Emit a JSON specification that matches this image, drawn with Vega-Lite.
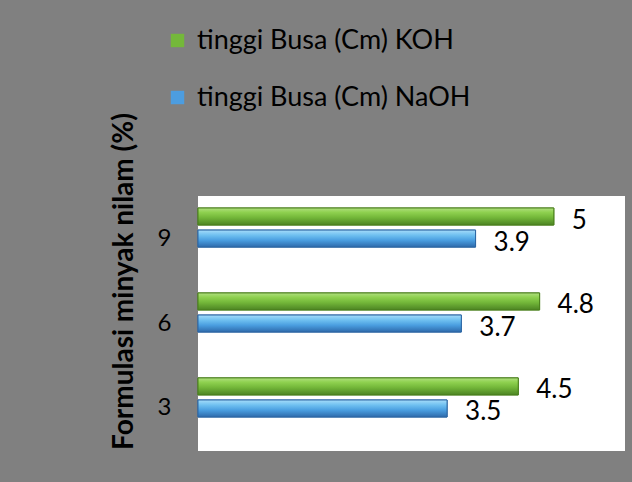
{
  "$schema": "https://vega.github.io/schema/vega-lite/v6.json",
  "width": 427,
  "height": 255,
  "autosize": {"type": "none"},
  "padding": {"left": 198, "top": 196, "right": 7, "bottom": 31},
  "background": "#808080",
  "config": {
    "view": {"fill": "white", "stroke": null},
    "font": "Lato"
  },
  "data": {
    "values": [
      {"formulasi": 3, "series": "tinggi Busa (Cm) KOH", "value": 4.5},
      {"formulasi": 3, "series": "tinggi Busa (Cm) NaOH", "value": 3.5},
      {"formulasi": 6, "series": "tinggi Busa (Cm) KOH", "value": 4.8},
      {"formulasi": 6, "series": "tinggi Busa (Cm) NaOH", "value": 3.7},
      {"formulasi": 9, "series": "tinggi Busa (Cm) KOH", "value": 5},
      {"formulasi": 9, "series": "tinggi Busa (Cm) NaOH", "value": 3.9}
    ]
  },
  "encoding": {
    "y": {
      "field": "formulasi",
      "type": "ordinal",
      "sort": "descending",
      "scale": {"range": [12, 221], "paddingInner": 0.54, "paddingOuter": 0},
      "axis": {
        "title": "Formulasi minyak nilam (%)",
        "titleFont": "Lato",
        "titleFontSize": 28,
        "titleFontWeight": "bold",
        "titleColor": "#000",
        "titleX": -74,
        "titleY": 85,
        "titleAlign": "center",
        "titleBaseline": "middle",
        "titleAngle": -90,
        "labelFontSize": 24,
        "labelColor": "#000",
        "labelPadding": 27,
        "labelOffset": 11,
        "labelAngle": 0,
        "domain": false,
        "ticks": false
      }
    },
    "yOffset": {
      "field": "series",
      "type": "nominal",
      "scale": {"paddingInner": 0.23, "paddingOuter": 0}
    },
    "x": {
      "field": "value",
      "type": "quantitative",
      "scale": {"domain": [0, 6]},
      "axis": null
    }
  },
  "layer": [
    {
      "mark": {"type": "bar", "strokeWidth": 1},
      "encoding": {
        "color": {
          "field": "series",
          "type": "nominal",
          "scale": {"domain": ["tinggi Busa (Cm) KOH", "tinggi Busa (Cm) NaOH"], "range": ["#74b83a", "#4c9de0"]},
          "legend": {
            "title": null,
            "orient": "none",
            "legendX": -34,
            "legendY": -169,
            "padding": 0,
            "symbolType": "square",
            "symbolSize": 180,
            "symbolStrokeWidth": 0,
            "labelFontSize": 27,
            "labelColor": "#000",
            "labelOffset": 6,
            "labelLimit": 400,
            "rowPadding": 29
          }
        },
        "stroke": {
          "field": "series",
          "type": "nominal",
          "scale": {"domain": ["tinggi Busa (Cm) KOH", "tinggi Busa (Cm) NaOH"], "range": ["#4a7f1c", "#2d66a3"]},
          "legend": null
        }
      }
    },
    {
      "transform": [{"filter": "datum.series === 'tinggi Busa (Cm) KOH'"}],
      "mark": {
        "type": "bar",
        "stroke": "#4a7f1c",
        "strokeWidth": 1,
        "color": {
          "gradient": "linear", "x1": 0, "y1": 0, "x2": 0, "y2": 1,
          "stops": [
            {"offset": 0, "color": "#b0df80"},
            {"offset": 0.25, "color": "#8fd150"},
            {"offset": 0.55, "color": "#74b83a"},
            {"offset": 1, "color": "#4c8423"}
          ]
        }
      }
    },
    {
      "transform": [{"filter": "datum.series === 'tinggi Busa (Cm) NaOH'"}],
      "mark": {
        "type": "bar",
        "stroke": "#2d66a3",
        "strokeWidth": 1,
        "color": {
          "gradient": "linear", "x1": 0, "y1": 0, "x2": 0, "y2": 1,
          "stops": [
            {"offset": 0, "color": "#a6dcfa"},
            {"offset": 0.3, "color": "#6fc0f0"},
            {"offset": 0.6, "color": "#4a9ee0"},
            {"offset": 1, "color": "#2e6aab"}
          ]
        }
      }
    },
    {
      "mark": {"type": "text", "align": "left", "baseline": "middle", "dx": 18, "dy": 4, "fontSize": 26, "color": "#000"},
      "encoding": {
        "text": {"field": "value", "type": "quantitative"}
      }
    }
  ]
}
